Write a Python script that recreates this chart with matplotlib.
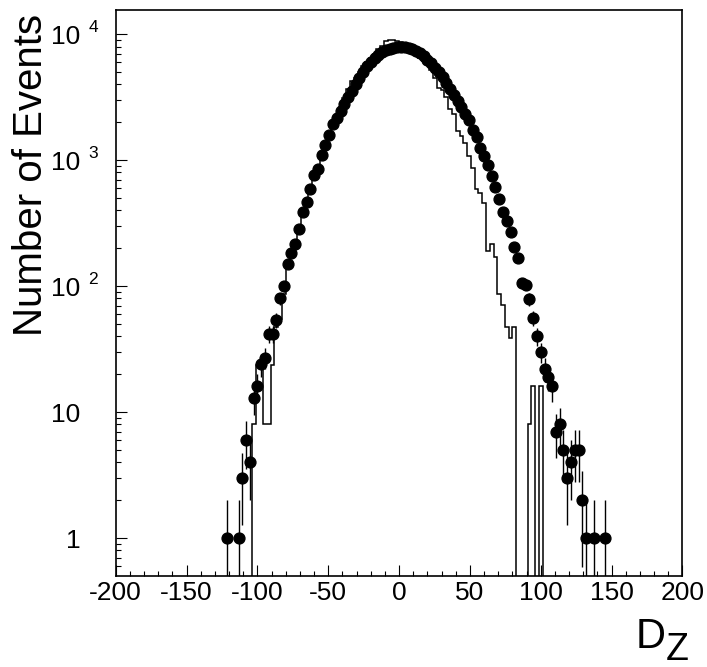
import numpy as np
import matplotlib
matplotlib.use("Agg")
import matplotlib.pyplot as plt
from matplotlib.ticker import MultipleLocator, LogLocator, FixedFormatter, FixedLocator, NullFormatter

plt.rcParams["font.family"] = ["Liberation Sans", "DejaVu Sans"]

# binning: 150 bins from -200 to 200
X_MIN, X_MAX, N_BINS = -200.0, 200.0, 150

# data points (filled circles), first bin index and counts per bin
data_first_bin = 29
data_counts = [
    1, 0, 0, 1, 3, 6, 4, 13, 16, 24,
    27, 42, 42, 54, 80, 100, 150, 185, 215, 285,
    390, 470, 590, 770, 850, 1110, 1310, 1600, 1930, 2180,
    2470, 2790, 3150, 3550, 4010, 4540, 5040, 5560, 6040, 6470,
    6880, 7180, 7450, 7630, 7760, 7870, 7900, 7880, 7780, 7600,
    7350, 7050, 6700, 6300, 5900, 5450, 5000, 4550, 4100, 3700,
    3300, 2950, 2650, 2350, 2080, 1750, 1520, 1260, 1080, 920,
    750, 610, 490, 390, 328, 270, 205, 168, 105, 103,
    79, 56, 40, 30, 22, 19, 16, 7, 8, 5,
    3, 4, 5, 5, 2, 1, 0, 1, 0, 0,
    1,
]

# histogram (step line), first bin index and contents per bin
hist_first_bin = 36
hist_counts = [
    8, 23.5, 23.5, 8, 8, 23.5, 47, 55, 86, 140,
    180, 230, 290, 380, 470, 600, 760, 900, 1130, 1350,
    1650, 1950, 2300, 2650, 3100, 3700, 4270, 4540, 5000, 5620,
    5980, 6430, 6950, 7630, 8110, 8900, 9000, 8950, 8900, 8700,
    8400, 8100, 7700, 7100, 6500, 6100, 5700, 5200, 4500, 3780,
    3600, 3150, 2540, 2320, 1710, 1560, 1380, 1080, 870, 590,
    550, 460, 190, 218, 170, 86, 71, 47, 39, 47,
    0, 0, 0, 8, 16, 0, 16,
]

x_ticks = [-200, -150, -100, -50, 0, 50, 100, 150, 200]
x_tick_labels = ["-200", "-150", "-100", "-50", "0", "50", "100", "150", "200"]
y_ticks = [1, 10, 100, 1000, 10000]
y_tick_labels = ["1", "10", "10", "10", "10"]
y_tick_exponents = {100: "2", 1000: "3", 10000: "4"}


def main():
    edges = np.linspace(X_MIN, X_MAX, N_BINS + 1)
    centers = 0.5 * (edges[:-1] + edges[1:])

    fig = plt.figure(figsize=(7.07, 6.67), dpi=100)
    ax = fig.add_axes([0.1637, 0.1369, 0.8016, 0.8481])

    # histogram
    h = np.array(hist_counts, dtype=float)
    h_edges = edges[hist_first_bin:hist_first_bin + len(h) + 1]
    ax.stairs(h, h_edges, baseline=0, color="black", linewidth=1.1, zorder=2)

    # data points with sqrt(N) errors
    d = np.array(data_counts, dtype=float)
    d_x = centers[data_first_bin:data_first_bin + len(d)]
    keep = d > 0
    ax.errorbar(d_x[keep], d[keep], yerr=np.sqrt(d[keep]), fmt="o", ms=7.8,
                mfc="black", mec="black", ecolor="black", elinewidth=1.0,
                capsize=0, zorder=3)

    ax.set_yscale("log")
    ax.set_xlim(X_MIN, X_MAX)
    ax.set_ylim(0.502, 15600)

    ax.xaxis.set_major_locator(FixedLocator(x_ticks))
    ax.xaxis.set_major_formatter(FixedFormatter(x_tick_labels))
    ax.xaxis.set_minor_locator(MultipleLocator(10))
    ax.yaxis.set_major_locator(FixedLocator(y_ticks))
    ax.yaxis.set_major_formatter(FixedFormatter(y_tick_labels))
    ax.yaxis.set_minor_locator(LogLocator(base=10, subs=np.arange(2, 10)))
    ax.yaxis.set_minor_formatter(NullFormatter())

    ax.tick_params(which="both", direction="in", top=False, right=False,
                   width=0.8, labelsize=19)
    ax.tick_params(axis="x", which="major", length=7.7, pad=4)
    ax.tick_params(axis="x", which="minor", length=3.6)
    ax.tick_params(axis="y", which="major", length=7.9, pad=25.5)
    ax.tick_params(axis="y", which="minor", length=3.6)
    for s in ax.spines.values():
        s.set_linewidth(1.2)

    # ROOT style exponents next to the "10" labels
    for val, ex in y_tick_exponents.items():
        ax.annotate(ex, xy=(0, val), xycoords=("axes fraction", "data"),
                    xytext=(-19.8, 1.9), textcoords="offset points",
                    fontsize=12.5, ha="left", va="baseline")

    fig.text(0.017, 0.737, "Number of Events", rotation=90, fontsize=29,
             ha="left", va="center")
    fig.text(0.899, 0.0285, "D", fontsize=30, ha="left", va="baseline")
    fig.text(0.941, 0.0105, "Z", fontsize=27, ha="left", va="baseline")

    fig.savefig("out.png", dpi=100)
    plt.close(fig)


if __name__ == "__main__":
    main()
